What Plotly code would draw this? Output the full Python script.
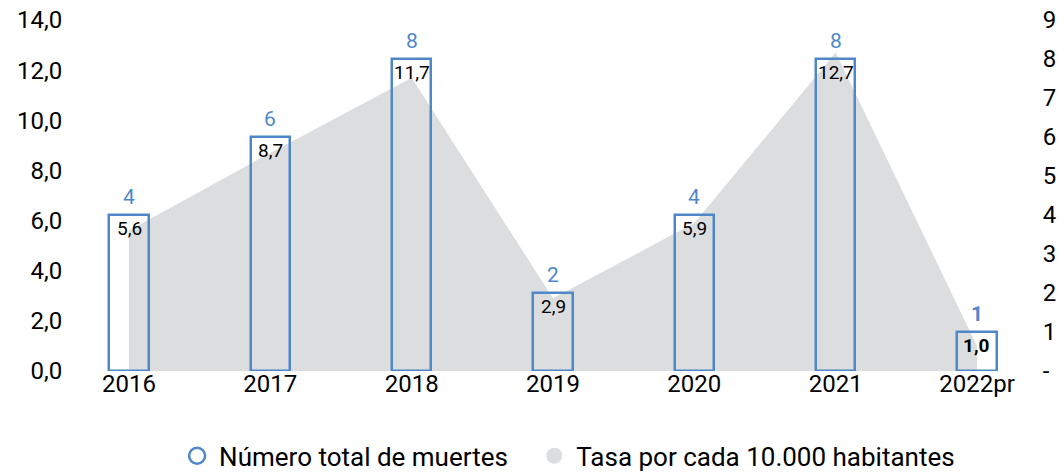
import plotly.graph_objects as go

years = ["2016", "2017", "2018", "2019", "2020", "2021", "2022pr"]
deaths = [4, 6, 8, 2, 4, 8, 1]
rates = [5.6, 8.7, 11.7, 2.9, 5.9, 12.7, 1.0]
left_ticks = [0, 2, 4, 6, 8, 10, 12, 14]
right_ticks = [0, 1, 2, 3, 4, 5, 6, 7, 8, 9]

BLUE = "#4f88c9"
GRAY = "#dcdddf"
FONT = "Roboto"

xs = list(range(len(years)))
last = len(years) - 1
rate_txt = [f"{v:.1f}".replace(".", ",") for v in rates]
rate_txt = [f"<b>{t}</b>" if i == last else t for i, t in enumerate(rate_txt)]
death_txt = [f"<b>{d}</b>" if i == last else str(d) for i, d in enumerate(deaths)]

fig = go.Figure()
fig.add_trace(go.Scatter(x=xs, y=rates, mode="none", fill="tozeroy", fillcolor=GRAY,
                         showlegend=False, hoverinfo="skip", yaxis="y"))
fig.add_trace(go.Bar(x=xs, y=deaths, width=0.28, yaxis="y2",
                     marker=dict(color="rgba(0,0,0,0)", line=dict(color=BLUE, width=2.5)),
                     showlegend=False))
# legend entries
fig.add_trace(go.Scatter(x=[None], y=[None], mode="markers",
                         name="Número total de muertes\u00a0\u00a0\u00a0",
                         marker=dict(symbol="circle-open", size=17, color=BLUE, line=dict(width=2.5))))
fig.add_trace(go.Scatter(x=[None], y=[None], mode="markers", name="Tasa por cada 10.000 habitantes",
                         marker=dict(symbol="circle", size=17, color=GRAY)))

annotations = []
for i in xs:
    annotations.append(dict(x=i, y=deaths[i], xref="x", yref="y2", text=death_txt[i],
                            showarrow=False, yanchor="bottom", yshift=4,
                            font=dict(color=BLUE, size=21, family=FONT)))
    annotations.append(dict(x=i, y=deaths[i], xref="x", yref="y2", text=rate_txt[i],
                            showarrow=False, yanchor="top", yshift=0,
                            font=dict(color="black", size=19, family=FONT)))

fig.update_layout(
    width=1064, height=472,
    margin=dict(l=70, r=35, t=20, b=101, autoexpand=False),
    plot_bgcolor="white", paper_bgcolor="white",
    font=dict(family=FONT, size=24, color="black"),
    bargap=0,
    annotations=annotations,
    xaxis=dict(range=[-0.4175, 6.368], tickvals=xs, ticktext=years, showgrid=False,
               zeroline=False, showline=False, ticks="", tickfont=dict(size=24),
               ticklabelstandoff=-4, automargin=False, ticklabeloverflow="allow"),
    yaxis=dict(range=[0, 14], tickvals=left_ticks,
               ticktext=[f"{v:.1f}".replace(".", ",") for v in left_ticks],
               showgrid=False, zeroline=False, showline=False, ticks="outside",
               ticklen=2, tickcolor="rgba(0,0,0,0)", tickfont=dict(size=24),
               automargin=False, ticklabeloverflow="allow"),
    yaxis2=dict(range=[0, 9], tickvals=right_ticks,
                ticktext=["-"] + [str(v) for v in right_ticks[1:]],
                overlaying="y", side="right", showgrid=False, zeroline=False,
                showline=False, ticks="outside", ticklen=8, tickcolor="rgba(0,0,0,0)",
                tickfont=dict(size=24), automargin=False, ticklabeloverflow="allow"),
    legend=dict(orientation="h", x=0.1096, xanchor="left", y=-0.2415, yanchor="middle",
                font=dict(size=26), itemwidth=34, tracegroupgap=0),
)

fig.write_html("out.html", config={"displayModeBar": False},
               post_script="document.body.style.margin='0';")
